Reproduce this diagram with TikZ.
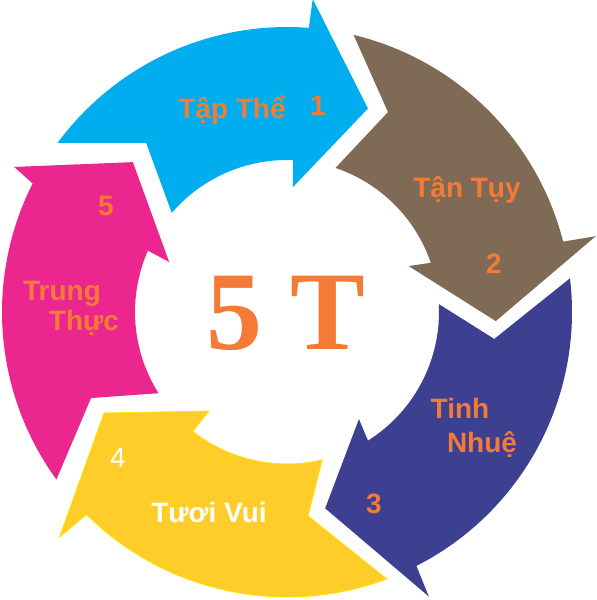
\documentclass[tikz,border=0pt]{standalone}
\usepackage{fontspec}
\setmainfont{Liberation Sans}
\newfontfamily\serifbold{Liberation Serif}[BoldFont={* Bold}]
\definecolor{cBlue}{RGB}{0,174,239}
\definecolor{cBrown}{RGB}{127,107,85}
\definecolor{cPurple}{RGB}{61,63,145}
\definecolor{cYellow}{RGB}{255,205,41}
\definecolor{cYellowEdge}{RGB}{255,228,0}
\definecolor{cPink}{RGB}{236,38,143}
\definecolor{cOrange}{RGB}{243,123,53}
\def\Ro{285}
\def\Ri{152}
\tikzset{
  lbl/.style={anchor=base, inner sep=0pt, text=cOrange, font=\fontsize{28}{30}\selectfont\bfseries},
  lblw/.style={lbl, text=white},
  num/.style={anchor=base, inner sep=0pt, text=cOrange, font=\fontsize{28}{30}\selectfont},
}
\begin{document}
\begin{tikzpicture}[x=1pt,y=1pt]
\useasboundingbox (0,0) rectangle (597,-600);
\begin{scope}[shift={(287,-312)}]
% 1 blue
\fill[cBlue] (143.6:\Ro) arc[start angle=143.6,end angle=85.6,radius=\Ro pt]
  -- (85.3:314) -- (68.3:219) -- (87.3:125) -- (87.7:\Ri)
  arc[start angle=87.7,end angle=139.3,radius=\Ri pt] -- (129.8:220) -- cycle;
% 2 brown
\fill[cBrown] (76.5:\Ro) arc[start angle=76.5,end angle=14.3,radius=\Ro pt]
  -- (13.8:318) -- (-2.5:209) -- (20.7:130) -- (18.9:\Ri)
  arc[start angle=18.9,end angle=71.4,radius=\Ri pt] -- (63.2:224) -- cycle;
% 3 purple
\fill[cPurple] (6.8:\Ro) arc[start angle=6.8,end angle=-63.0,radius=\Ro pt]
  -- (-63.5:318) -- (-79.0:200) -- (-56.1:129) -- (-57.8:\Ri)
  arc[start angle=-57.8,end angle=3.0,radius=\Ri pt] -- (-7.4:209) -- cycle;
% 4 yellow
\filldraw[fill=cYellow,draw=cYellowEdge,line width=0.8pt] (-69.5:\Ro) arc[start angle=-69.5,end angle=-134.7,radius=\Ro pt]
  -- (-135.3:320) -- (-151.1:209) -- (-128.2:126) -- (-128.3:\Ri)
  arc[start angle=-128.3,end angle=-76.6,radius=\Ri pt] -- (-84.1:205) -- cycle;
% 5 pink
\fill[cPink] (-144.0:\Ro) arc[start angle=-144.0,end angle=-206.8,radius=\Ro pt]
  -- (-208.0:309) -- (-224.2:215) -- (-203.0:128) -- (-203.8:\Ri)
  arc[start angle=-203.8,end angle=-147.7,radius=\Ri pt] -- (-156.3:214) -- cycle;
\end{scope}
\node[lbl] (t1) at (232,-118) {Tập Thể};
\node[lbl] (n1) at (318,-115) {1};
\node[lbl] (t2) at (467,-197) {Tận Tụy};
\node[lbl] (n2) at (494,-273) {2};
\node[lbl] (t3a) at (460,-418) {Tinh};
\node[lbl] (t3b) at (482,-452) {Nhuệ};
\node[lbl] (n3) at (374,-513) {3};
\node[lblw] (t4) at (209,-522) {Tươi Vui};
\node[num, text=white] (n4) at (118,-467) {4};
\node[lbl] (t5a) at (62,-300) {Trung};
\node[lbl] (t5b) at (84,-330) {Thực};
\node[lbl] (n5) at (106,-215) {5};
\node[anchor=base, inner sep=0pt, text=cOrange, font=\serifbold\fontsize{112}{112}\selectfont\bfseries] (center) at (286,-349) {5 T};
\end{tikzpicture}
\end{document}
